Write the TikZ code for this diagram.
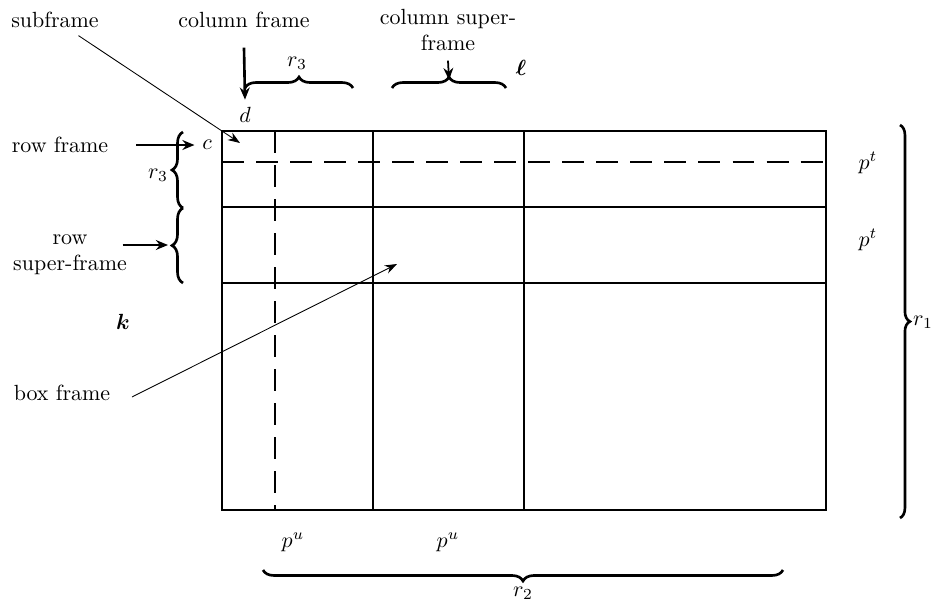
\documentclass[tikz,border=0pt]{standalone}
\usepackage{amsmath,amssymb}
\usepackage{tikz}
\usetikzlibrary{arrows.meta, positioning, calc, decorations.pathreplacing}

\begin{document}
\begin{tikzpicture}[
    x=0.016cm, y=-0.016cm,
    every node/.style={font=\normalsize},
    frame/.style={draw, line width=1.2pt},
    thinframe/.style={draw, line width=0.8pt},
    subline/.style={line width=1.2pt, dash pattern=on 10pt off 5.5pt},
    bigarrow/.style={-{Stealth[length=5.5pt, width=4.5pt]}, line width=1.2pt},
    pointer/.style={-{Stealth[length=5.5pt, width=4pt]}, line width=0.4pt},
    bracestyle/.style={decorate, decoration={brace, amplitude=5pt}, line width=1.2pt}
]
\useasboundingbox (0,0) rectangle (934,603);

% the array and its frames
\draw[thinframe] (222,131) rectangle (826,510);
\draw[frame] (222,131) rectangle (524,510);
\draw[frame] (222,131) rectangle (826,283);
\draw[frame] (373,131) -- (373,510);
\draw[frame] (222,207) -- (826,207);
\draw[subline] (275,131) -- (275,510);
\draw[subline] (222,162) -- (826,162);

% labels
\node (subframe) at (55,20) {subframe};
\node (colframe) at (244,20) {column frame};
\node[align=center] (colsuper) at (448,30) {column super-\\frame};
\node (ell) at (521,68) {$\boldsymbol{\ell}$};
\node (rthreetop) at (297,63) {$r_3$};
\node (d) at (245,115) {$d$};
\node (c) at (207,145) {$c$};
\node (rowframe) at (60,145) {row frame};
\node (rthreeleft) at (158,175) {$r_3$};
\node[align=center] (rowsuper) at (70,255) {row\\super-frame};
\node (k) at (123,322) {$\boldsymbol{k}$};
\node (boxframe) at (62,393) {box frame};
\node (pt1) at (868,163) {$p^t$};
\node (pt2) at (868,240) {$p^t$};
\node (rone) at (923,322) {$r_1$};
\node (pu1) at (293,542) {$p^u$};
\node (pu2) at (448,542) {$p^u$};
\node (rtwo) at (523,593) {$r_2$};

\coordinate (subpt) at (240,143);
\coordinate (boxpt) at (397,264);
\coordinate (suptip) at (449,80);
\coordinate (rowtip) at (168,245);

% braces
\draw[bracestyle] (245,88) -- (353,88);
\draw[bracestyle] (392,88) -- (506,88);
\draw[bracestyle] (183,208) -- (183,132);
\draw[bracestyle] (183,283) -- (183,208);
\draw[bracestyle, decoration={amplitude=4.5pt}] (900,125) -- (900,518);
\draw[bracestyle] (783,570) -- (263,570);

% arrows
\draw[pointer] (subframe) -- (subpt);
\draw[pointer] (boxframe.east) ++(14,4) -- (boxpt);
\draw[bigarrow] (colframe.south) ++(0,12) -- (d.north);
\draw[bigarrow, line width=0.8pt] (colsuper.south) ++(0,2) -- (suptip);
\draw[bigarrow] (rowframe.east) ++(20,0) -- (c.west);
\draw[bigarrow] (rowsuper.east) ++(-12,-10) -- (rowtip);
\end{tikzpicture}
\end{document}
